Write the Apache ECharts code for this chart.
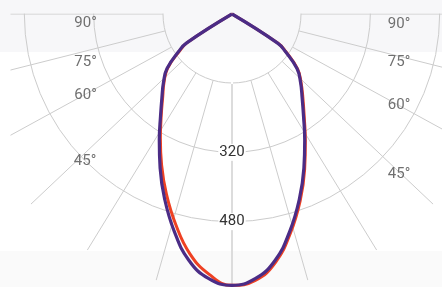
<!DOCTYPE html>
<html><head><meta charset="utf-8">
<script src="https://cdn.jsdelivr.net/npm/echarts@6/dist/echarts.min.js"></script>
<style>html,body{margin:0;padding:0;background:#fff}#c{width:442px;height:287px}</style>
</head><body><div id="c"></div>
<script>
// Polar angles (degrees from nadir) at which intensities were read
const angles = [0, 5, 10, 15, 20, 25, 30, 35, 40, 45, 50, 55, 57.5, 60];
// Purple curve (C90-C270 plane), symmetric
const purpleValues = [627, 614, 577, 518, 455, 393, 336, 288, 252, 224, 196, 150, 125, 0];
// Red curve (C0-C180 plane): left half and right half
const redLeftValues  = [627, 604, 562, 503, 443, 385, 331, 285, 249, 222, 194, 147, 122, 0];
const redRightValues = [627, 618, 582, 523, 460, 397, 339, 291, 255, 226, 198, 152, 127, 0];
// Grid: radius ticks and labelled ticks
const radiusTicks = [160, 320, 480, 640];
const radiusLabels = ['320', '480'];
// Grid rays as they appear in the picture (degrees from nadir)
const rayAngles = [15.9, 31.5, 46.6, 61.3, 75.8, 90];
// Angle tick labels
const angleLabels = ['90°', '75°', '60°', '45°'];

const chart = echarts.init(document.getElementById('c'), null, {renderer: 'canvas'});
const C = [232, 14];
const FONT = 'Roboto';

function curve(leftVals, rightVals) {
  const d = [];
  for (let i = angles.length - 1; i >= 0; i--) d.push([leftVals[i], angles[i]]);
  for (let i = 1; i < angles.length; i++) d.push([rightVals[i], 360 - angles[i]]);
  return d;
}

const series = [];
rayAngles.forEach(a => {
  [a, 360 - a].forEach(v => {
    series.push({
      type: 'line', coordinateSystem: 'polar', polarIndex: 1, z: 1,
      symbol: 'none', silent: true, animation: false,
      lineStyle: {color: '#cccccc', width: 1},
      data: [[radiusTicks[0], v], [radiusTicks[radiusTicks.length - 1], v]]
    });
  });
});
series.push({
  type: 'line', coordinateSystem: 'polar', polarIndex: 0, z: 3,
  symbol: 'none', smooth: 0.45, animation: false,
  lineStyle: {color: '#ee4123', width: 3},
  data: curve(redLeftValues, redRightValues)
});
series.push({
  type: 'line', coordinateSystem: 'polar', polarIndex: 0, z: 4,
  symbol: 'none', smooth: 0.45, animation: false,
  lineStyle: {color: '#4b2c86', width: 3.2},
  data: curve(purpleValues, purpleValues)
});

const leftLabelPos = [[85.5, 23], [85.5, 62], [85.5, 95.5], [85, 161]];
const rightLabelPos = [[399, 24], [399, 62], [399, 105], [399, 174]];
const graphics = [
  {type: 'rect', z: -10, shape: {x: 0, y: 0, width: 442, height: 52}, style: {fill: '#f7f7f9'}},
  {type: 'rect', z: -10, shape: {x: 0, y: 251, width: 442, height: 36}, style: {fill: '#fafafa'}},
  {type: 'rect', z: 2, shape: {x: 0, y: 0, width: 442, height: 13.5}, style: {fill: '#f7f7f9'}},
  {type: 'rect', z: 2, shape: {x: 0, y: 0, width: 10.5, height: 52}, style: {fill: '#f7f7f9'}},
  {type: 'rect', z: 2, shape: {x: 0, y: 52, width: 10.5, height: 199}, style: {fill: '#ffffff'}}
];
angleLabels.forEach((t, i) => {
  [leftLabelPos[i], rightLabelPos[i]].forEach(p => {
    graphics.push({type: 'text', z: 10, x: p[0], y: p[1],
      style: {text: t, fill: '#707070', font: '15px ' + FONT, textAlign: 'center', textVerticalAlign: 'middle'}});
  });
});

chart.setOption({
  animation: false,
  backgroundColor: '#ffffff',
  polar: [{center: C, radius: 277}, {center: C, radius: [69, 277]}],
  angleAxis: [
    {polarIndex: 0, type: 'value', min: 0, max: 360, startAngle: 270, clockwise: true, show: false},
    {polarIndex: 1, type: 'value', min: 0, max: 360, startAngle: 270, clockwise: true,
      axisLine: {show: false}, axisTick: {show: false}, axisLabel: {show: false}, splitLine: {show: false}}
  ],
  radiusAxis: [
    {polarIndex: 0, type: 'value', min: 0, max: 640, show: false},
    {polarIndex: 1, type: 'value', min: radiusTicks[0], max: radiusTicks[radiusTicks.length - 1], interval: 160,
      axisLine: {show: true, lineStyle: {color: '#dcdcdc', width: 2}},
      axisTick: {show: false},
      splitLine: {show: true, lineStyle: {color: ['#cccccc', '#cccccc', '#cccccc', 'rgba(0,0,0,0)'], width: 1}},
      axisLabel: {
        show: true, margin: 0, rotate: 0, align: 'center', verticalAlign: 'middle',
        color: '#333333', fontSize: 15, fontFamily: FONT,
        backgroundColor: '#ffffff', padding: [1, 1],
        formatter: v => radiusLabels.includes(String(v)) ? String(v) : ''
      }
    }
  ],
  graphic: {elements: graphics},
  series: series
});
</script></body></html>
